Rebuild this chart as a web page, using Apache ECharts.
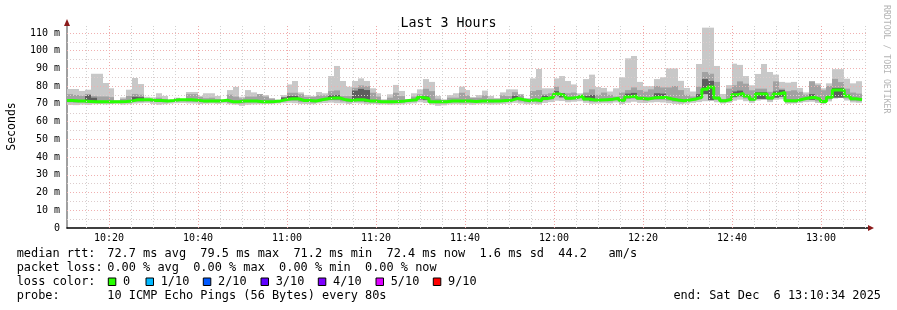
<!DOCTYPE html>
<html><head><meta charset="utf-8">
<script src="https://cdn.jsdelivr.net/npm/echarts@6/dist/echarts.min.js"></script>
<style>html,body{margin:0;padding:0;background:#fff}#c{width:897px;height:310px}</style>
</head><body><div id="c"></div>
<script>
// time axis in minutes since midnight; window 10:10:34 .. 13:10:34
const START = 610 + 34 / 60;
const END = START + 180;
const STEP = 80 / 60; // probe every 80s

// smoke values (ms) per probe step
const maxRtt = [
 78.4,78.4,77.3,78.0,87.0,87.0,81.8,78.8,72.0,73.7,
 78.0,84.6,81.2,74.0,73.7,76.0,74.5,72.4,73.5,72.8,
 76.7,76.7,74.5,76.0,76.0,74.5,72.4,77.8,79.6,74.0,
 77.8,76.5,75.5,75.0,73.3,72.4,75.0,81.0,82.9,76.5,
 75.0,74.5,76.7,76.0,85.7,91.4,82.9,79.7,82.9,84.4,
 82.9,78.8,76.0,72.6,75.4,80.7,77.3,72.6,76.0,78.2,
 84.0,82.4,74.5,72.6,75.0,76.0,79.7,77.8,73.7,75.0,
 77.5,74.5,73.3,76.5,78.2,78.2,75.0,73.3,84.4,89.7,
 78.8,78.8,84.4,85.7,82.9,81.0,76.0,84.0,86.5,79.5,
 79.0,77.0,78.8,85.0,95.7,97.0,82.4,80.0,80.0,84.0,
 85.0,90.0,90.0,83.0,79.0,77.0,92.5,113.0,113.0,91.4,
 75.6,80.6,92.7,92.0,85.7,80.5,86.9,92.5,88.0,86.5,
 82.4,82.0,82.4,79.0,76.5,82.8,81.6,78.8,81.6,89.6,
 89.6,84.2,81.6,82.8];
const hiRtt = [
 75.5,75.0,74.6,75.6,74.5,74.2,74.2,73.8,71.8,72.8,
 74.5,75.6,75.2,72.8,72.6,73.5,72.8,72.2,73.2,72.6,
 75.5,75.5,73.9,73.2,73.5,72.7,72.3,75.2,74.1,73.1,
 74.1,74.1,75.5,74.1,72.9,72.2,73.9,76.3,76.3,75.4,
 73.9,73.9,74.8,74.8,77.2,77.6,74.4,74.4,79.1,80.4,
 80.0,76.3,74.1,72.0,73.5,76.3,74.4,72.4,74.1,75.4,
 78.5,77.2,72.9,72.2,73.5,73.5,76.3,74.8,73.5,73.5,
 74.8,72.9,72.8,74.8,74.4,76.6,75.4,72.8,77.2,77.8,
 75.4,76.0,79.7,76.0,76.0,76.4,75.1,76.4,78.2,75.1,
 76.4,75.1,74.1,76.4,77.8,79.3,77.8,76.9,78.2,80.1,
 79.3,79.3,80.1,77.8,75.1,74.2,79.7,88.0,87.0,82.4,
 72.6,78.6,80.5,82.7,81.4,77.7,78.6,78.6,76.8,82.7,
 78.6,77.2,77.7,76.8,75.2,82.7,80.5,77.7,80.1,84.1,
 82.3,78.6,76.4,75.8];
const medRtt = [
 71.9,71.7,71.6,71.4,71.2,71.2,71.2,71.2,71.2,71.4,
 71.7,72.3,72.3,72.3,71.9,71.9,71.7,71.9,72.3,72.3,
 72.3,72.1,71.7,71.7,71.7,71.7,72.1,71.2,71.2,71.7,
 71.7,71.6,71.2,71.2,71.4,71.7,72.5,72.9,72.9,71.9,
 71.9,71.6,72.3,72.9,73.3,73.3,72.3,71.9,72.3,72.3,
 71.7,71.7,71.2,71.2,71.2,71.4,71.7,72.1,72.3,73.6,
 73.1,71.2,71.2,71.2,71.6,71.7,71.6,71.7,71.4,71.6,
 71.7,71.6,71.7,71.9,72.1,73.1,72.3,71.7,72.3,71.7,
 73.1,73.7,75.6,74.5,73.2,73.6,74.5,72.8,72.2,72.2,
 72.4,72.6,73.2,72.0,74.1,74.5,73.2,72.8,73.4,73.6,
 73.6,72.8,72.2,71.8,72.2,72.8,73.7,78.2,79.5,73.3,
 71.8,72.6,75.2,75.9,74.4,72.6,75.6,75.6,73.3,75.6,
 76.4,71.8,71.8,72.6,73.3,73.7,72.6,71.4,73.7,77.8,
 77.8,74.4,72.9,72.4];
const loRtt = [
 70.9,70.7,70.8,70.6,70.5,70.4,70.5,70.4,70.6,70.6,
 70.9,71.4,71.3,71.5,71.1,71.0,70.9,71.1,71.4,71.5,
 71.3,71.2,70.9,70.8,71.0,70.9,71.3,70.5,70.4,70.3,
 70.7,70.8,70.5,70.6,70.6,70.9,71.5,71.9,71.8,71.0,
 71.0,70.7,71.3,71.9,72.1,72.0,71.4,70.9,71.3,71.2,
 70.9,70.8,70.4,70.5,70.4,70.5,70.8,71.2,71.4,72.4,
 72.0,70.5,70.3,70.4,70.8,70.9,70.7,70.9,70.6,70.8,
 70.9,70.7,70.9,71.0,71.2,72.1,71.4,70.9,71.3,70.8,
 72.0,72.5,74.2,73.3,72.1,72.4,73.2,71.8,71.2,71.3,
 71.5,71.4,72.1,71.0,72.8,73.0,72.2,71.8,72.2,72.4,
 72.3,71.8,71.2,70.9,71.3,71.8,72.6,76.0,76.8,72.2,
 70.9,71.6,73.8,74.3,73.0,71.6,73.9,74.1,72.1,74.2,
 74.9,70.9,70.8,71.5,72.2,72.5,71.5,70.6,72.5,75.2,
 75.6,73.1,71.8,71.5];
const minRtt = [
 69.4,69.3,69.6,69.4,69.8,69.9,69.7,69.9,70.1,69.6,
 69.8,70.2,70.4,70.6,70.0,69.5,69.8,70.2,70.4,70.5,
 70.3,70.2,69.9,70.1,70.2,70.0,70.3,69.8,69.6,68.9,
 69.5,69.7,69.8,70.0,69.9,70.2,70.4,70.6,70.4,70.0,
 69.9,69.8,70.3,70.5,70.7,70.4,70.3,69.9,70.4,70.2,
 69.8,69.9,69.6,69.7,69.5,69.6,69.7,70.1,70.3,70.9,
 70.5,69.6,68.9,69.2,69.7,69.8,69.6,69.9,69.5,69.8,
 69.9,69.6,69.7,70.0,70.2,70.6,70.2,69.8,70.0,69.7,
 70.5,71.0,71.8,71.6,70.9,71.2,71.5,70.6,70.1,70.2,
 70.4,70.3,70.8,69.9,70.7,71.2,70.6,70.5,70.8,71.0,
 70.8,70.4,70.0,69.8,70.2,70.6,71.0,71.5,72.0,70.9,
 70.2,70.6,71.8,72.4,71.5,70.6,71.9,72.2,71.0,72.3,
 72.6,70.1,70.2,70.6,71.0,71.2,70.5,69.9,71.4,73.0,
 73.4,71.9,70.8,70.6];
// darkest smoke close to the median, only where visible: step index -> [top, bottom]
const coreBand = {
 3:[75.0,71.0], 4:[73.5,70.8], 11:[74.0,71.8], 12:[73.8,71.6], 36:[73.6,72.0], 37:[74.5,72.2],
 38:[74.5,72.2], 44:[74.8,72.6], 45:[75.0,72.6], 48:[77.5,71.8], 49:[78.5,71.8], 50:[77.8,71.3],
 59:[74.5,72.6], 60:[74.2,72.3], 75:[74.5,72.3], 80:[74.6,72.4], 82:[77.2,74.8], 83:[76.0,73.8],
 87:[74.5,72.2], 88:[75.0,71.8], 94:[75.8,73.3], 95:[76.2,73.6], 99:[76.0,72.8], 100:[75.8,72.8],
 106:[75.5,72.8], 107:[84.0,75.5], 108:[83.0,72.0], 112:[77.0,73.8], 113:[77.5,74.3],
 116:[76.6,72.8], 117:[76.6,72.8], 119:[77.0,73.5], 120:[77.8,74.0], 125:[75.5,72.3],
 129:[79.0,73.5], 130:[79.0,73.5]
};

// axes / grid
const xLabelTimes = [620,640,660,680,700,720,740,760,780];
const xMinorGrid = [615,625,630,635,645,650,655,665,670,675,685,690,695,705,710,715,725,730,735,745,750,755,765,770,775,785,790];
const xMajorGrid = [620,640,660,680,700,720,740,760,780];
const yLabelValues = [0,10,20,30,40,50,60,70,80,90,100,110];
const yMinorGrid = [5,15,25,35,45,55,65,75,85,95,105];
const yMajorGrid = [10,20,30,40,50,60,70,80,90,100,110];

// legend texts
const lossLabels = ['0','1/10','2/10','3/10','4/10','5/10','9/10'];
const lossColors = ['#26ff00','#00b8ff','#0059ff','#5e00ff','#7e00ff','#dd00ff','#ff0000'];
const rttLine = '72.7 ms avg  79.5 ms max  71.2 ms min  72.4 ms now  1.6 ms sd  44.2   am/s';
const lossLine = '0.00 % avg  0.00 % max  0.00 % min  0.00 % now';
const probeLine = '10 ICMP Echo Pings (56 Bytes) every 80s';
const endLine = 'end: Sat Dec  6 13:10:34 2025';

const MONO = 'DejaVu Sans Mono';
const lossBoxX = [108.3,146,203.3,261,318.3,376,433.3];

const smokeData = maxRtt.map((v, i) => {
  const c = coreBand[i];
  return [START + i * STEP, START + (i + 1) * STEP, minRtt[i], loRtt[i], hiRtt[i], v, c ? c[1] : '-', c ? c[0] : '-'];
});
const medData = medRtt.map((v, i) => [START + i * STEP, v]);
medData.push([START + medRtt.length * STEP, medRtt[medRtt.length - 1]]);

function hhmm(v) {
  const h = Math.floor(v / 60), m = Math.round(v - h * 60);
  return (h < 10 ? '0' : '') + h + ':' + (m < 10 ? '0' : '') + m;
}

const gridLines = [];
xMinorGrid.forEach(v => gridLines.push({xAxis: v, lineStyle: {color: '#d0d0d0', type: [1, 2], width: 1}}));
xMajorGrid.forEach(v => gridLines.push({xAxis: v, lineStyle: {color: '#f0a8a8', type: [1, 2], width: 1}}));
yMinorGrid.forEach(v => gridLines.push({yAxis: v, lineStyle: {color: '#dccccc', type: [1, 2], width: 1}}));
yMajorGrid.forEach(v => gridLines.push({yAxis: v, lineStyle: {color: '#f0b0b0', type: [1, 2], width: 1}}));

const graphics = [];
function txt(x, y, s, extra) {
  graphics.push(Object.assign({type: 'text', x: x, y: y, style: {text: s, fill: '#000', font: '11.9px "' + MONO + '"', textVerticalAlign: 'middle'}}, extra || {}));
}
txt(16.7, 254, 'median rtt:');
txt(107.3, 254, rttLine);
txt(16.7, 268, 'packet loss:');
txt(107.3, 268, lossLine);
txt(16.7, 282, 'loss color:');
lossLabels.forEach((l, k) => {
  graphics.push({type: 'rect', shape: {x: lossBoxX[k], y: 278, width: 7.5, height: 7.5}, style: {fill: lossColors[k], stroke: '#000', lineWidth: 1}});
  txt(lossBoxX[k] + 14.7, 282, l);
});
txt(16.7, 296, 'probe:');
txt(107.3, 296, probeLine);
graphics.push({type: 'text', x: 881, y: 296, style: {text: endLine, fill: '#000', font: '11.9px "' + MONO + '"', textAlign: 'right', textVerticalAlign: 'middle'}});
graphics.push({type: 'text', x: 886, y: 5, rotation: -Math.PI / 2, style: {text: 'RRDTOOL / TOBI OETIKER', fill: '#b4b4b4', font: '8.2px "' + MONO + '"', textAlign: 'left', textVerticalAlign: 'middle'}});
// axis arrows
graphics.push({type: 'polygon', shape: {points: [[67, 19], [64, 26], [70, 26]]}, style: {fill: '#8b1a1a'}, z: 10});
graphics.push({type: 'polygon', shape: {points: [[874, 228], [868, 225], [868, 231]]}, style: {fill: '#8b1a1a'}, z: 10});

const chart = echarts.init(document.getElementById('c'), null, {renderer: 'canvas'});
chart.setOption({
  animation: false,
  backgroundColor: '#ffffff',
  title: {text: 'Last 3 Hours', left: 'center', top: 12, textStyle: {fontFamily: MONO, fontSize: 13.3, fontWeight: 'normal', color: '#000'}},
  grid: {left: 67, right: 29, top: 25, bottom: 82, containLabel: false, outerBoundsMode: 'none'},
  xAxis: {
    type: 'value', min: START, max: END,
    axisLine: {show: true, lineStyle: {color: '#000', width: 1.5}},
    axisTick: {show: false},
    splitLine: {show: false},
    axisLabel: {customValues: xLabelTimes, formatter: hhmm, color: '#000', fontFamily: MONO, fontSize: 10, margin: 5}
  },
  yAxis: {
    type: 'value', min: 0, max: 114.5,
    name: 'Seconds', nameLocation: 'middle', nameGap: 49, nameRotate: 90,
    nameTextStyle: {fontFamily: MONO, fontSize: 11.5, color: '#000'},
    axisLine: {show: true, lineStyle: {color: '#808080', width: 1.5}},
    axisTick: {show: false},
    splitLine: {show: false},
    axisLabel: {customValues: yLabelValues, formatter: v => v === 0 ? '0' : v + ' m', color: '#000', fontFamily: MONO, fontSize: 10, margin: 7}
  },
  series: [
    {
      type: 'custom', z: 1, clip: true,
      data: smokeData,
      encode: {x: [0, 1], y: [2, 5]},
      renderItem: function (params, api) {
        const t0 = api.value(0), t1 = api.value(1);
        const x0 = Math.round(api.coord([t0, 0])[0]);
        const x1 = Math.round(api.coord([t1, 0])[0]);
        const yMin = api.coord([t0, api.value(2)])[1];
        const yLo = api.coord([t0, api.value(3)])[1];
        const yHi = api.coord([t0, api.value(4)])[1];
        const yMax = api.coord([t0, api.value(5)])[1];
        const children = [
          {type: 'rect', shape: {x: x0, y: yMax, width: x1 - x0, height: yMin - yMax}, style: {fill: '#c8c8c8'}},
          {type: 'rect', shape: {x: x0, y: yHi, width: x1 - x0, height: yLo - yHi}, style: {fill: '#a2a2a2'}}
        ];
        const cLo = api.value(6), cHi = api.value(7);
        if (!isNaN(cLo) && !isNaN(cHi)) {
          const yCL = api.coord([t0, cLo])[1], yCH = api.coord([t0, cHi])[1];
          children.push({type: 'rect', shape: {x: x0, y: yCH, width: x1 - x0, height: yCL - yCH}, style: {fill: '#5e5e5e'}});
        }
        return {type: 'group', children: children};
      }
    },
    {
      type: 'line', z: 2, data: [], silent: true,
      markLine: {silent: true, symbol: ['none', 'none'], animation: false, label: {show: false}, emphasis: {disabled: true}, data: gridLines}
    },
    {
      type: 'line', z: 3, step: 'end', data: medData, showSymbol: false, symbol: 'none', silent: true,
      lineStyle: {color: '#26ff00', width: 3}
    }
  ],
  graphic: graphics
});
</script></body></html>
